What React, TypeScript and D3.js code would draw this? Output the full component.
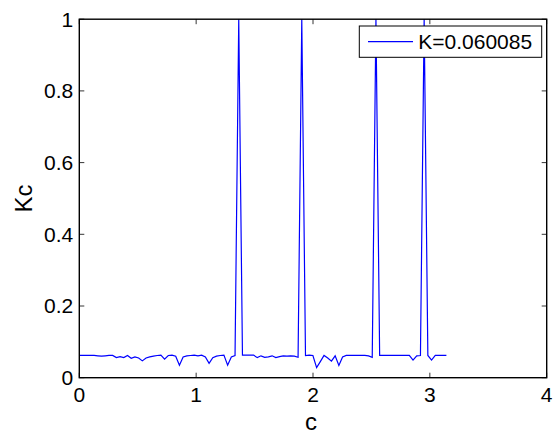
import React from "react";
import * as d3 from "d3";

// ---- data ----
const N = 100;
// sample grid c in [0, pi]
const cValues: number[] = d3.range(N).map((i) => (i * Math.PI) / (N - 1));
const kcValues: number[] = [
  0.062, 0.062, 0.062, 0.062, 0.062, 0.061, 0.060, 0.061, 0.062, 0.062,
  0.056, 0.059, 0.056, 0.062, 0.054, 0.058, 0.055, 0.047, 0.055, 0.058,
  0.060, 0.062, 0.063, 0.052, 0.062, 0.063, 0.060, 0.035, 0.058, 0.061,
  0.062, 0.063, 0.061, 0.063, 0.058, 0.040, 0.056, 0.060, 0.062, 0.063,
  0.035, 0.058, 0.062, 1.000, 0.063, 0.063, 0.063, 0.063, 0.056, 0.061,
  0.057, 0.058, 0.061, 0.056, 0.059, 0.061, 0.060, 0.061, 0.060, 0.057,
  1.000, 0.062, 0.063, 0.062, 0.028, 0.045, 0.062, 0.055, 0.046, 0.061,
  0.034, 0.058, 0.062, 0.062, 0.062, 0.062, 0.062, 0.062, 0.061, 0.057,
  1.000, 0.062, 0.062, 0.062, 0.062, 0.062, 0.062, 0.062, 0.062, 0.062,
  0.049, 0.061, 0.062, 1.000, 0.062, 0.049, 0.062, 0.062, 0.062, 0.062,
];
const xTicks: number[] = [0, 1, 2, 3, 4];
const yTicks: number[] = [0, 0.2, 0.4, 0.6, 0.8, 1];
const legendLabel = "K=0.060085";
const xLabel = "c";
const yLabel = "Kc";

const W = 555;
const H = 435;
const L = 79.3, R = 546.7, T = 19.2, B = 377.7;
const FONT = "Arial, 'Liberation Sans', Helvetica, sans-serif";
const BLUE = "#0000ff";

export default function App() {
  const x = d3.scaleLinear().domain([0, 4]).range([L, R]);
  const y = d3.scaleLinear().domain([0, 1]).range([B, T]);
  const pts: [number, number][] = cValues.map((c, i) => [c, kcValues[i]]);
  const line = d3
    .line<[number, number]>()
    .x((d) => x(d[0]))
    .y((d) => y(d[1]));
  const tickLen = 5;
  const fmt = (v: number) => d3.format("~g")(v);

  return (
    <svg
      width={W}
      height={H}
      style={{ position: "absolute", left: 0, top: 0, display: "block", background: "#fff" }}
    >
      <defs>
        <clipPath id="plotclip">
          <rect x={L} y={T - 1} width={R - L} height={B - T + 2} />
        </clipPath>
      </defs>
      <rect x={0} y={0} width={W} height={H} fill="#fff" />
      <path
        d={line(pts) || ""}
        fill="none"
        stroke={BLUE}
        strokeWidth={1.2}
        clipPath="url(#plotclip)"
      />
      {/* ticks */}
      {xTicks.map((t) => (
        <g key={"xt" + t}>
          <line x1={x(t)} x2={x(t)} y1={B} y2={B - tickLen} stroke="#000" strokeWidth={0.8} />
          <line x1={x(t)} x2={x(t)} y1={T} y2={T + tickLen} stroke="#000" strokeWidth={0.8} />
          <text
            x={x(t)}
            y={B + 24}
            textAnchor="middle"
            fontFamily={FONT}
            fontSize={21}
            fill="#000"
          >
            {fmt(t)}
          </text>
        </g>
      ))}
      {yTicks.map((t) => (
        <g key={"yt" + t}>
          <line x1={L} x2={L + tickLen} y1={y(t)} y2={y(t)} stroke="#000" strokeWidth={0.8} />
          <line x1={R} x2={R - tickLen} y1={y(t)} y2={y(t)} stroke="#000" strokeWidth={0.8} />
          <text
            x={L - 6}
            y={y(t) + 7.3}
            textAnchor="end"
            fontFamily={FONT}
            fontSize={21}
            fill="#000"
          >
            {fmt(t)}
          </text>
        </g>
      ))}
      {/* box */}
      <rect x={L} y={T} width={R - L} height={B - T} fill="none" stroke="#000" strokeWidth={1.4} />
      {/* axis labels */}
      <text
        x={(L + R) / 2 - 2}
        y={430}
        textAnchor="middle"
        fontFamily={FONT}
        fontSize={24}
        fill="#000"
      >
        {xLabel}
      </text>
      <text
        transform={`translate(${31.5},${(T + B) / 2}) rotate(-90)`}
        textAnchor="middle"
        fontFamily={FONT}
        fontSize={24}
        fill="#000"
      >
        {yLabel}
      </text>
      {/* legend */}
      <rect x={359.3} y={26} width={182.4} height={31.3} fill="#fff" stroke="#000" strokeWidth={1} />
      <line x1={368} x2={413} y1={41.7} y2={41.7} stroke={BLUE} strokeWidth={1.2} />
      <text x={418.3} y={49.3} fontFamily={FONT} fontSize={21} fill="#000">
        {legendLabel}
      </text>
    </svg>
  );
}
